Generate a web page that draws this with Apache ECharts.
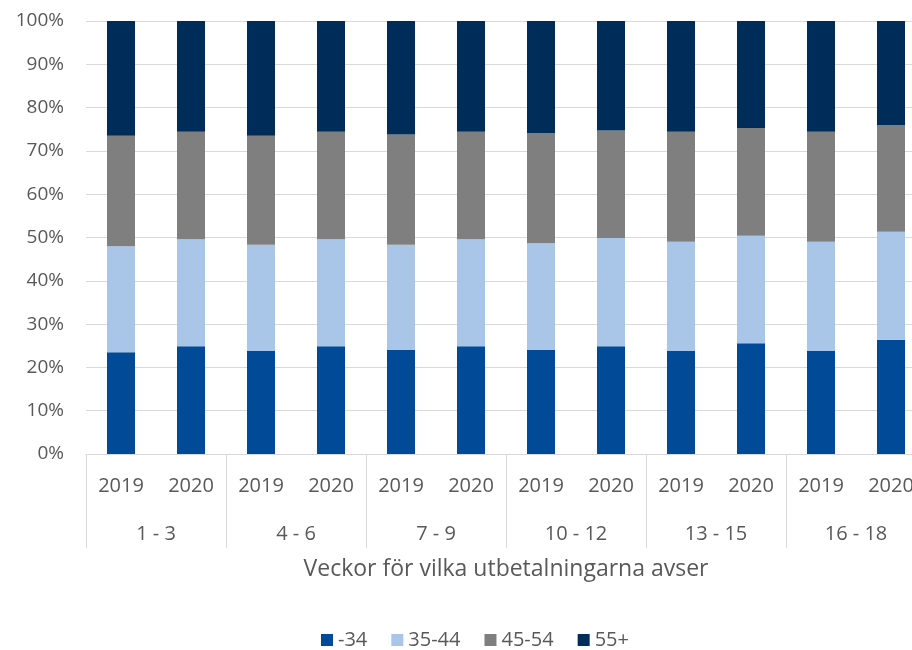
<!DOCTYPE html>
<html>
<head>
<meta charset="utf-8">
<title>Veckor för vilka utbetalningarna avser</title>
<script src="https://cdn.jsdelivr.net/npm/echarts@6/dist/echarts.min.js"></script>
<style>
  html, body { margin: 0; padding: 0; background: #fff; overflow: hidden; }
  /* diagrammet är avskuret till höger, därför bredare än fönstret */
  #chart { width: 926px; height: 650px; }
</style>
</head>
<body>
<div id="chart"></div>
<script>
// kategorier
const years = ['2019', '2020', '2019', '2020', '2019', '2020', '2019', '2020', '2019', '2020', '2019', '2020']
const weekGroups = ['1 - 3', '4 - 6', '7 - 9', '10 - 12', '13 - 15', '16 - 18']
const ageGroups = ['-34', '35-44', '45-54', '55+']

// andel i procent per åldersgrupp
const age34 = [23.5, 24.9, 23.8, 24.9, 24.0, 24.9, 24.0, 24.9, 23.8, 25.6, 23.8, 26.4]
const age35_44 = [24.5, 24.7, 24.5, 24.7, 24.3, 24.7, 24.7, 25.0, 25.2, 24.8, 25.2, 24.9]
const age45_54 = [25.5, 24.8, 25.2, 24.8, 25.5, 24.8, 25.4, 24.8, 25.4, 24.9, 25.4, 24.6]
const age55 = [26.5, 25.6, 26.5, 25.6, 26.2, 25.6, 25.9, 25.3, 25.6, 24.7, 25.6, 24.1]

const colors = ['#004a98', '#a9c6e8', '#7f7f7f', '#002c5a']
const textColor = '#595959'
const lineColor = '#d9d9d9'
const font = "'Open Sans', sans-serif"

const chart = echarts.init(document.getElementById('chart'))

const seriesData = [age34, age35_44, age45_54, age55]

chart.setOption({
  animation: false,
  color: colors,
  textStyle: { fontFamily: font },
  grid: {
    left: 86,
    right: 0,
    top: 21,
    bottom: 196,
    containLabel: false
  },
  legend: {
    data: ageGroups,
    top: 630,
    left: 321,
    padding: 0,
    icon: 'rect',
    itemWidth: 12,
    itemHeight: 12,
    itemGap: 24,
    textStyle: { color: textColor, fontSize: 20, fontFamily: font }
  },
  xAxis: [{
    type: 'category',
    data: years,
    axisLine: { lineStyle: { color: lineColor } },
    axisTick: { show: false },
    axisLabel: { color: textColor, fontSize: 20, margin: 22, interval: 0 }
  }, {
    // andra nivån: veckogrupper
    type: 'category',
    data: weekGroups,
    position: 'bottom',
    offset: 0,
    axisLine: { show: false },
    axisTick: { show: true, length: 94, interval: 0, lineStyle: { color: lineColor } },
    axisLabel: { color: textColor, fontSize: 20, margin: 70, interval: 0 },
    name: 'Veckor för vilka utbetalningarna avser',
    nameLocation: 'middle',
    nameGap: 104,
    nameTextStyle: { color: textColor, fontSize: 23 }
  }],
  yAxis: {
    type: 'value',
    min: 0,
    max: 100,
    interval: 10,
    axisLine: { show: false },
    axisTick: { show: false },
    axisLabel: { color: textColor, fontSize: 19, margin: 22, formatter: '{value}%' },
    splitLine: { lineStyle: { color: lineColor, width: 1 } }
  },
  series: seriesData.map((d, i) => ({
    name: ageGroups[i],
    type: 'bar',
    stack: 'andel',
    xAxisIndex: 0,
    barWidth: '40%',
    data: d
  }))
})
</script>
</body>
</html>
